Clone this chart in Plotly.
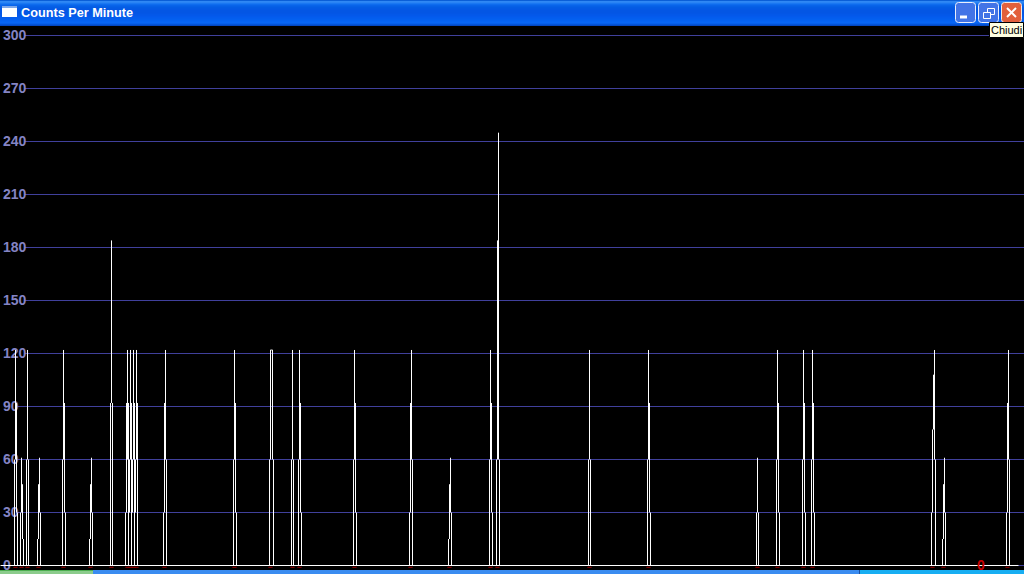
import plotly.graph_objects as go

WIDTH, HEIGHT = 1024, 574
TITLE = "Counts Per Minute"
TOOLTIP = "Chiudi"
CURRENT_READING = "0"

tick_values = [0, 30, 60, 90, 120, 150, 180, 210, 240, 270, 300]
tick_labels = ["0", "30", "60", "90", "120", "150", "180", "210", "240", "270", "300"]

# Each burst: first sample column, then the counts per minute of its samples
spike_starts = [14, 20, 26, 37, 62, 89, 110, 163, 233, 269, 291, 298, 353, 409, 448, 489, 496,
                588, 647, 756, 776, 802, 811, 931, 942, 1006]
spike_counts = [
    [60, 122, 92, 30], [30, 61, 46, 15], [60, 122, 60], [15, 46, 61, 30], [60, 122, 92, 30],
    [15, 46, 61, 30], [92, 184, 92], [30, 92, 122, 60], [60, 122, 92, 30],
    [60, 122, 122, 122, 60], [60, 122, 60], [60, 122, 92, 30], [60, 122, 92, 30],
    [30, 92, 122, 60], [15, 46, 61, 30], [60, 122, 92, 30], [60, 184, 245, 60],
    [60, 122, 60], [60, 122, 92, 30], [30, 61, 30], [60, 122, 92, 30], [60, 122, 92, 30],
    [60, 122, 92, 30], [30, 77, 108, 122, 60], [15, 46, 61, 30], [30, 92, 122, 60],
]
# Dense burst near the start, given as the span of each sample column
cluster_columns = [125, 126, 127, 128, 129, 130, 131, 132, 133, 134, 135, 136, 137]
cluster_lows = [0, 30, 60, 0, 30, 60, 0, 30, 60, 0, 30, 60, 0]
cluster_highs = [30, 92, 122, 92, 60, 122, 92, 60, 122, 92, 60, 122, 92]
baseline_columns = [0, 1018]
baseline_counts = [0, 0]

PX_PER_UNIT = 530 / 300
ZERO_ROW = 565.5
y_range = [(ZERO_ROW - HEIGHT) / PX_PER_UNIT, ZERO_ROW / PX_PER_UNIT]

xs, ys = list(baseline_columns) + [None], list(baseline_counts) + [None]
for start, counts in zip(spike_starts, spike_counts):
    vals = [0] + counts + [0]
    for i in range(len(counts)):
        col = start + i
        prev, cur, nxt = vals[i], vals[i + 1], vals[i + 2]
        if prev == cur:
            xs += [col - 1, col, None]
            ys += [cur, cur, None]
        low = cur
        if prev < cur:
            low = min(low, prev)
        if nxt < cur:
            low = min(low, nxt)
        if low < cur:
            xs += [col, col, None]
            ys += [low, cur, None]
for col, low, high in zip(cluster_columns, cluster_lows, cluster_highs):
    xs += [col, col, None]
    ys += [low, high, None]

marker_cols = [s + 1 for s in spike_starts] + cluster_columns[2::3]

fig = go.Figure()
fig.add_trace(go.Scatter(
    x=marker_cols, y=[-1.0] * len(marker_cols), mode="markers", hoverinfo="skip",
    marker=dict(symbol="line-ew", size=3, color="#a00000", line=dict(color="#a00000", width=1)),
))
fig.add_trace(go.Scatter(x=xs, y=ys, mode="lines", hoverinfo="skip",
                         line=dict(color="#ffffff", width=1)))


def px(x):
    return x / WIDTH


def py(y):
    return 1 - y / HEIGHT


shapes = []


def rect(x0, y0, x1, y1, fill, line=None, lw=1):
    shapes.append(dict(type="rect", xref="paper", yref="paper", layer="above",
                       x0=px(x0), x1=px(x1), y0=py(y0), y1=py(y1), fillcolor=fill,
                       line=dict(color=line, width=lw) if line else dict(width=0)))


def button(x0, y0, x1, y1, fill, line, r=3):
    pts = (f"M {px(x0 + r)} {py(y0)} L {px(x1 - r)} {py(y0)} Q {px(x1)} {py(y0)} {px(x1)} {py(y0 + r)} "
           f"L {px(x1)} {py(y1 - r)} Q {px(x1)} {py(y1)} {px(x1 - r)} {py(y1)} "
           f"L {px(x0 + r)} {py(y1)} Q {px(x0)} {py(y1)} {px(x0)} {py(y1 - r)} "
           f"L {px(x0)} {py(y0 + r)} Q {px(x0)} {py(y0)} {px(x0 + r)} {py(y0)} Z")
    shapes.append(dict(type="path", xref="paper", yref="paper", layer="above", path=pts,
                       fillcolor=fill, line=dict(color=line, width=1)))


def seg(x0, y0, x1, y1, color, lw):
    shapes.append(dict(type="line", xref="paper", yref="paper", layer="above",
                       x0=px(x0), x1=px(x1), y0=py(y0), y1=py(y1),
                       line=dict(color=color, width=lw)))


# Masks that keep the grid away from the labels and the right edge
for value, label in zip(tick_values, tick_labels):
    shapes.append(dict(type="rect", xref="x", yref="y", layer="between",
                       x0=-0.5, x1=len(label) * 8 - 0.5, y0=value - 2, y1=value + 2,
                       fillcolor="#000000", line=dict(width=0)))
shapes.append(dict(type="rect", xref="x", yref="paper", layer="between",
                   x0=1013.5, x1=1023.5, y0=0, y1=1, fillcolor="#000000", line=dict(width=0)))

# Window title bar
bar_rows = ["#0a5fd8", "#2f88f4", "#2a84f4", "#1a78f2", "#0e6cee", "#0864ea", "#0560e6", "#045ce4",
            "#045ae4", "#0458e4", "#0456e4", "#0456e4", "#0456e4", "#0456e6", "#0458e8", "#0458ea",
            "#045aec", "#045cee", "#045eee", "#0460f0", "#0462f2", "#0664f4", "#0866f4", "#0660ec",
            "#0454d8", "#0348c4"]
for row, colour in enumerate(bar_rows):
    rect(0, row, WIDTH, row + 1, colour)

# Window icon
rect(2, 6, 17, 17, "#ffffff")
rect(2, 6, 17, 8, "#7fa8e8")

# Window buttons
button(955.5, 2.5, 975.5, 22.5, "#4274e6", "#e8eefc")
rect(960, 15.5, 967, 18.5, "#ffffff")
button(978.5, 2.5, 998.5, 22.5, "#4274e6", "#e8eefc")
rect(987.5, 8.5, 994.5, 14.5, "rgba(0,0,0,0)", "#ffffff")
rect(983.5, 12.5, 990.5, 18.5, "#4274e6", "#ffffff")
button(1001.5, 2.5, 1021.5, 22.5, "#e2603c", "#f4e8e4")
seg(1007, 8, 1016, 17, "#ffffff", 2)
seg(1016, 8, 1007, 17, "#ffffff", 2)

# Tooltip
rect(989.5, 22.5, 1023.5, 37.5, "#ffffe1", "#000000")

# Taskbar strip along the bottom edge
rect(0, 570, 93, 571, "#4caf50")
rect(0, 571, 93, 574, "#8ccc8c")
rect(93, 570, 859, 574, "#3a8cf0")
rect(859, 570, 860, 574, "#1a4fa0")
rect(860, 570, WIDTH, 574, "#18aef2")

annotations = [
    dict(xref="paper", yref="paper", x=px(1006.5), y=py(30), text=TOOLTIP, showarrow=False,
         xanchor="center", yanchor="middle",
         font=dict(family="Liberation Sans", size=11, color="#000000")),
    dict(xref="paper", yref="paper", x=px(980.5), y=py(565), text=CURRENT_READING, showarrow=False,
         xanchor="center", yanchor="middle",
         font=dict(family="Liberation Sans", size=14, color="#c80000", weight="bold")),
]

fig.update_layout(
    width=WIDTH, height=HEIGHT, margin=dict(l=0, r=0, t=0, b=0),
    paper_bgcolor="#000000", plot_bgcolor="#000000", showlegend=False,
    title=dict(text=TITLE, x=21 / WIDTH, xref="container", xanchor="left",
               y=1 - 13 / HEIGHT, yref="container", yanchor="middle",
               font=dict(family="Liberation Sans", size=12.7, color="#ffffff", weight="bold")),
    xaxis=dict(visible=False, range=[-0.5, WIDTH - 0.5], fixedrange=True),
    yaxis=dict(range=y_range, tickmode="array", tickvals=tick_values, ticktext=tick_labels,
               ticklabelposition="inside", ticks="", showline=False, zeroline=False,
               showgrid=True, gridcolor="#40409c", gridwidth=1, fixedrange=True,
               layer="below traces",
               tickfont=dict(family="Liberation Sans", size=14, color="#8484c4", weight="bold")),
    shapes=shapes, annotations=annotations,
)

fig.write_html("out.html", config=dict(displayModeBar=False),
               post_script="document.body.style.margin='0';document.body.style.overflow='hidden';")
